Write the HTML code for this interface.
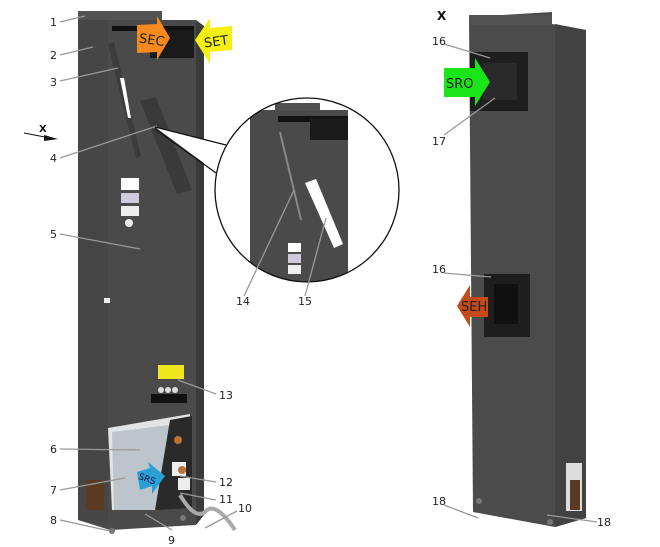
<!DOCTYPE html>
<html><head><meta charset="utf-8"><style>
html,body{margin:0;padding:0;background:#fff;}
svg{display:block;font-family:"DejaVu Sans","Liberation Sans",sans-serif;}
</style></head><body>
<svg width="660" height="547" viewBox="0 0 660 547" xmlns="http://www.w3.org/2000/svg">
<defs>
<clipPath id="cc"><circle cx="307" cy="190" r="92"/></clipPath>
</defs>
<!-- LEFT UNIT -->
<polygon points="78,13 162,11 162,20 196,20 196,525 110,530 78,520" fill="#4a4a4a"/>
<polygon points="78,13 108,13 108,522 78,520" fill="#464646"/>
<rect x="78" y="11" width="84" height="9" fill="#525252"/>
<polygon points="196,20 204,26 204,515 196,525" fill="#3a3a3a"/>
<rect x="112" y="26" width="82" height="5" fill="#111"/>
<rect x="150" y="30" width="44" height="28" fill="#1a1a1a"/>
<polygon points="108,44 114,42 141,156 136,158" fill="#3c3c3c"/>
<polygon points="120,78 124,78 131,118 128,118" fill="#fff"/>
<polygon points="140,101 156,97 192,190 177,194" fill="#3a3a3a"/>
<rect x="121" y="178" width="18" height="12" fill="#fff"/>
<rect x="121" y="193" width="18" height="10" fill="#cfcbdc"/>
<rect x="121" y="206" width="18" height="10" fill="#eee"/>
<circle cx="129" cy="223" r="4" fill="#eee"/>
<rect x="104" y="298" width="6" height="5" fill="#eee"/>
<rect x="158" y="365" width="26" height="14" fill="#f0e81a"/>
<circle cx="161" cy="390" r="3" fill="#ddd"/><circle cx="168" cy="390" r="3" fill="#ddd"/><circle cx="175" cy="390" r="3" fill="#ddd"/>
<rect x="151" y="394" width="36" height="9" fill="#111"/>
<polygon points="108,428 190,414 192,508 112,510" fill="#e4e4e4"/>
<polygon points="112,432 170,425 156,510 114,510" fill="#bcc4cc"/>
<polygon points="170,420 192,416 192,508 155,510" fill="#2a2a2a"/>
<rect x="172" y="462" width="14" height="14" fill="#eee"/>
<rect x="178" y="478" width="12" height="12" fill="#eee"/>
<circle cx="178" cy="440" r="4" fill="#b87333"/><circle cx="182" cy="470" r="4" fill="#b87333"/>
<rect x="86" y="480" width="18" height="30" fill="#5a3a22"/>
<path d="M180 495 Q195 520 205 512 Q215 500 235 530" stroke="#aaa" stroke-width="4" fill="none"/>
<circle cx="112" cy="531" r="3" fill="#777"/><circle cx="183" cy="518" r="3" fill="#777"/>
<polygon points="137,25 157,24 157,16 170,38 157,60 157,52 137,53" fill="#f78a1e"/>
<text x="139" y="44" font-size="13" fill="#222" transform="rotate(8 150 40)">SEC</text>
<polygon points="195,40 210,18 210,28 232,26 232,50 210,52 210,64" fill="#f5ef12"/>
<text x="204" y="46" font-size="13" fill="#222" transform="rotate(-8 215 42)">SET</text>
<polygon points="137,472 150,468 148,462 165,476 152,494 152,486 140,490" fill="#2a9fd8"/>
<text x="138" y="483" font-size="9" fill="#113" transform="rotate(20 150 480)">SRS</text>
<text x="39" y="132" font-size="10" font-weight="bold" fill="#111">X</text>
<line x1="24" y1="133" x2="50" y2="138" stroke="#111"/>
<polygon points="44,135 58,139 44,141" fill="#111"/>
<g stroke="#999" stroke-width="1.3" fill="none">
<line x1="60" y1="22" x2="85" y2="16"/>
<line x1="60" y1="55" x2="93" y2="47"/>
<line x1="60" y1="81" x2="118" y2="68"/>
<line x1="60" y1="158" x2="157" y2="126"/>
<line x1="60" y1="234" x2="140" y2="249"/>
<line x1="60" y1="449" x2="140" y2="450"/>
<line x1="60" y1="490" x2="125" y2="478"/>
<line x1="60" y1="520" x2="110" y2="531"/>
<line x1="172" y1="530" x2="145" y2="514"/>
<line x1="237" y1="511" x2="205" y2="528"/>
<line x1="216" y1="500" x2="180" y2="493"/>
<line x1="216" y1="482" x2="180" y2="476"/>
<line x1="216" y1="394" x2="178" y2="380"/>
</g>
<g font-size="11" fill="#222">
<text x="50" y="26">1</text><text x="50" y="59">2</text><text x="50" y="86">3</text>
<text x="50" y="162">4</text><text x="50" y="238">5</text><text x="50" y="453">6</text>
<text x="50" y="494">7</text><text x="50" y="524">8</text><text x="168" y="544">9</text>
<text x="238" y="512">10</text><text x="219" y="503">11</text><text x="219" y="486">12</text>
<text x="219" y="399">13</text>
<text x="236" y="305">14</text><text x="298" y="305">15</text>
</g>
<polygon points="155,127 226,145 216,172" fill="#fff"/>
<line x1="155" y1="127" x2="226" y2="145" stroke="#111" stroke-width="1.2"/>
<line x1="155" y1="129" x2="216" y2="173" stroke="#111" stroke-width="1.2"/>
<circle cx="307" cy="190" r="92" fill="#fff"/>
<g clip-path="url(#cc)">
<rect x="250" y="110" width="98" height="190" fill="#4a4a4a"/>
<rect x="275" y="103" width="45" height="8" fill="#505050"/>
<rect x="278" y="116" width="70" height="6" fill="#111"/>
<rect x="310" y="118" width="38" height="22" fill="#1a1a1a"/>
<line x1="280" y1="132" x2="301" y2="220" stroke="#888" stroke-width="2"/>
<polygon points="305,183 316,179 343,244 334,248" fill="#fff"/>
<rect x="288" y="243" width="13" height="9" fill="#fff"/>
<rect x="288" y="254" width="13" height="9" fill="#cfcbdc"/>
<rect x="288" y="265" width="13" height="9" fill="#eee"/>
</g>
<circle cx="307" cy="190" r="92" fill="none" stroke="#111" stroke-width="1.3"/>
<line x1="244" y1="296" x2="294" y2="190" stroke="#999" stroke-width="1.3"/>
<line x1="305" y1="296" x2="326" y2="218" stroke="#999" stroke-width="1.3"/>
<!-- RIGHT UNIT -->
<polygon points="469,17 552,12 552,24 586,30 586,518 555,527 473,512" fill="#4b4b4b"/>
<polygon points="555,24 586,30 586,518 555,527" fill="#424242"/>
<rect x="469" y="15" width="83" height="10" fill="#525252"/>
<rect x="470" y="52" width="58" height="59" fill="#1e1e1e"/>
<rect x="483" y="63" width="34" height="37" fill="#2a2a2a"/>
<rect x="484" y="274" width="46" height="63" fill="#1e1e1e"/>
<rect x="494" y="284" width="24" height="40" fill="#111"/>
<rect x="566" y="463" width="16" height="48" fill="#ddd"/>
<rect x="570" y="480" width="10" height="30" fill="#5a3a22"/>
<circle cx="479" cy="501" r="3" fill="#777"/><circle cx="550" cy="522" r="3" fill="#777"/>
<polygon points="444,68 475,68 475,58 490,82 475,106 475,97 444,97" fill="#19e619"/>
<text x="446" y="88" font-size="13" fill="#222">SRO</text>
<polygon points="488,297 470,297 470,285 457,306 470,327 470,317 488,317" fill="#c54a1c"/>
<text x="461" y="311" font-size="13" fill="#222">SEH</text>
<text x="437" y="20" font-size="12" font-weight="bold" fill="#111">X</text>
<g stroke="#999" stroke-width="1.3">
<line x1="444" y1="44" x2="490" y2="58"/>
<line x1="444" y1="135" x2="495" y2="98"/>
<line x1="444" y1="273" x2="491" y2="277"/>
<line x1="444" y1="505" x2="478" y2="518"/>
<line x1="597" y1="522" x2="547" y2="515"/>
</g>
<g font-size="11" fill="#222">
<text x="432" y="45">16</text><text x="432" y="145">17</text><text x="432" y="273">16</text>
<text x="432" y="505">18</text><text x="597" y="526">18</text>
</g>
</svg>
</body></html>
